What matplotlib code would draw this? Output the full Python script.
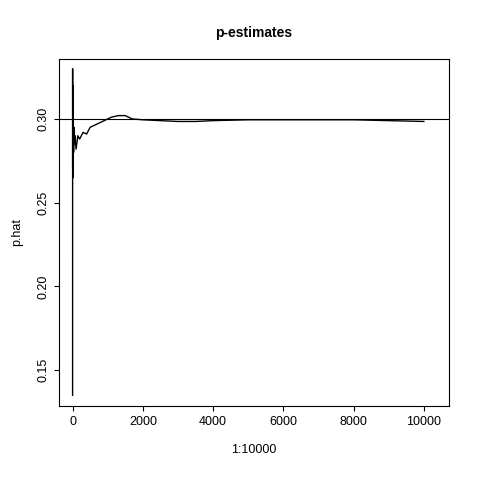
import matplotlib.pyplot as plt

# estimated points of the running p-estimate
n = [1, 2, 3, 5, 8, 10, 15, 20, 30, 40, 50, 70, 100, 150, 200, 300, 400, 500,
     700, 900, 1100, 1300, 1500, 1700, 2000, 2500, 3000, 3500, 4000, 5000,
     6000, 7000, 8000, 9000, 10000]
p_hat = [0.135, 0.33, 0.27, 0.32, 0.27, 0.30, 0.265, 0.29, 0.28, 0.295, 0.285,
         0.29, 0.282, 0.29, 0.288, 0.292, 0.291, 0.295, 0.297, 0.299, 0.301,
         0.302, 0.302, 0.300, 0.2995, 0.2990, 0.2985, 0.2985, 0.299, 0.2995,
         0.2995, 0.2995, 0.2995, 0.299, 0.2985]
p_true = 0.3

plt.rcParams['font.family'] = ['Liberation Sans', 'DejaVu Sans']
fig = plt.figure(figsize=(4.8, 4.8), dpi=100)
ax = fig.add_axes([59/480, 74/480, 390/480, 347/480])
ax.plot(n, p_hat, color="black", lw=1)
ax.axhline(p_true, color="black", lw=0.8)
ax.set_xlim(-386, 10716)
ax.set_ylim(0.1286, 0.3358)
ax.set_xticks([0, 2000, 4000, 6000, 8000, 10000])
ax.set_yticks([0.15, 0.20, 0.25, 0.30])
ax.set_yticklabels(["0.15", "0.20", "0.25", "0.30"], rotation=90, va="center")
ax.tick_params(labelsize=9)
ax.set_xlabel("1:10000", fontsize=9, labelpad=12)
ax.set_ylabel("p.hat", fontsize=9, labelpad=10)
ax.set_title("p-estimates", fontsize=10, fontweight="bold", pad=16)
fig.savefig("out.png")
